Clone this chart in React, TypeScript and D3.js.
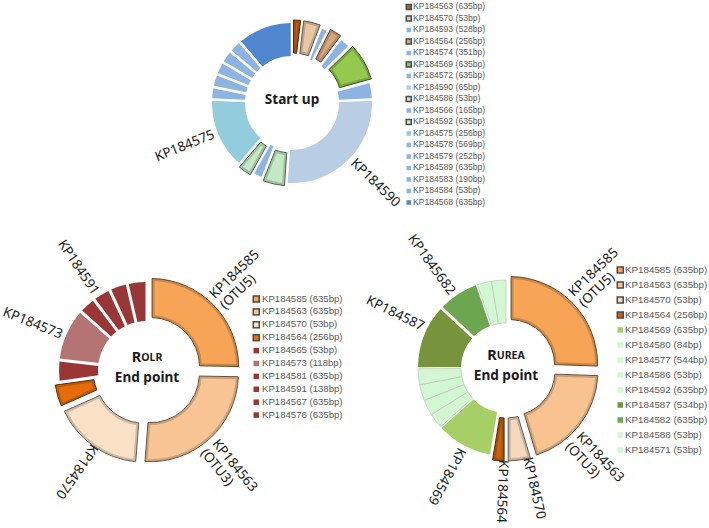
import * as d3 from 'd3';

// ---- Start up ----
const startIds = ['KP184563', 'KP184570', 'KP184593', 'KP184564', 'KP184574', 'KP184569', 'KP184572', 'KP184590', 'KP184586', 'KP184566', 'KP184592', 'KP184575', 'KP184578', 'KP184579', 'KP184589', 'KP184583', 'KP184584', 'KP184568'];
const startBp = [635, 53, 528, 256, 351, 635, 635, 65, 53, 165, 635, 256, 569, 252, 635, 190, 53, 635];
const startShare = [7, 14, 5.5, 10.5, 8.5, 29, 13, 96.5, 17.5, 7.5, 11.5, 52, 9, 9.5, 9.5, 9.5, 9.5, 40.5];
const startColors = ['#c65b12', '#e9c6a6', '#8db3e2', '#d9a57b', '#8db3e2', '#92c94e', '#8db3e2', '#b9cde5', '#c3eac3', '#8db3e2', '#c3eac3', '#93cddd', '#8db3e2', '#8db3e2', '#8db3e2', '#8db3e2', '#8db3e2', '#4f86cf'];
const startBevel = ['KP184563', 'KP184570', 'KP184564', 'KP184569', 'KP184586', 'KP184592'];

// ---- R OLR end point ----
const olrIds = ['KP184585', 'KP184563', 'KP184570', 'KP184564', 'KP184565', 'KP184573', 'KP184581', 'KP184591', 'KP184567', 'KP184576'];
const olrBp = [635, 635, 53, 256, 53, 118, 635, 138, 635, 635];
const olrShare = [91, 93.5, 61.5, 16, 14.5, 35, 11.5, 12, 12, 13];
const olrColors = ['#f7a456', '#f9c594', '#fbe1c6', '#e46c0a', '#993737', '#b57474', '#993737', '#993737', '#993737', '#993737'];
const olrBevel = ['KP184585', 'KP184563', 'KP184570', 'KP184564'];

// ---- R UREA end point ----
const ureaIds = ['KP184585', 'KP184563', 'KP184570', 'KP184564', 'KP184569', 'KP184580', 'KP184577', 'KP184586', 'KP184592', 'KP184587', 'KP184582', 'KP184588', 'KP184571'];
const ureaBp = [635, 635, 53, 256, 635, 84, 544, 53, 635, 534, 635, 53, 53];
const ureaShare = [92, 71.5, 16.5, 9.5, 38.5, 10, 10.5, 10.5, 10.5, 43.5, 28, 9.5, 9.5];
const ureaColors = ['#f7a456', '#f9c291', '#f4d9bf', '#c8600f', '#a6cf66', '#d3f6d3', '#d3f6d3', '#d3f6d3', '#d3f6d3', '#77933c', '#6ca64e', '#d3f6d3', '#d3f6d3'];
const ureaBevel = ['KP184585', 'KP184563', 'KP184570', 'KP184564'];
const ureaJoined = ['KP184580', 'KP184577', 'KP184586', 'KP184592', 'KP184588', 'KP184571'];

// slice labels: text lines, angle (deg clockwise from top), read inward?
const startLabels = [
  { lines: ['KP184590'], at: 134, flip: false },
  { lines: ['KP184575'], at: 248, flip: true },
];
const olrLabels = [
  { lines: ['KP184585', '(OTU5)'], at: 46, flip: false },
  { lines: ['KP184563', '(OTU3)'], at: 141, flip: false },
  { lines: ['KP184570'], at: 215, flip: false },
  { lines: ['KP184573'], at: 292, flip: true },
  { lines: ['KP184591'], at: 326, flip: true },
];
const ureaLabels = [
  { lines: ['KP184585', '(OTU5)'], at: 46, flip: false },
  { lines: ['KP184563', '(OTU3)'], at: 137, flip: false },
  { lines: ['KP184570'], at: 167, flip: false },
  { lines: ['KP184564'], at: 182, flip: false },
  { lines: ['KP184569'], at: 209, flip: false },
  { lines: ['KP184587'], at: 296, flip: true },
  { lines: ['KP1845682'], at: 324, flip: true },
];

const charts = [
  {
    key: 'start', ids: startIds, bp: startBp, share: startShare, colors: startColors, bevel: startBevel, joined: [] as string[],
    cx: 292, cy: 103, rIn: 47, rOut: 80, explode: 3, gap: 2.6, labels: startLabels,
    title: [['Start up']], titleY: [-3],
    legend: { mx: 406, tx: 413, y0: 7, dy: 11.5, fs: 8.6, ms: 5.5 },
  },
  {
    key: 'olr', ids: olrIds, bp: olrBp, share: olrShare, colors: olrColors, bevel: olrBevel, joined: [] as string[],
    cx: 147, cy: 370, rIn: 49, rOut: 88, explode: 5, gap: 3, labels: olrLabels,
    title: [['R', 'OLR'], ['End point']], titleY: [-12, 8],
    legend: { mx: 253, tx: 262, y0: 299, dy: 12.9, fs: 9.6, ms: 6.5 },
  },
  {
    key: 'urea', ids: ureaIds, bp: ureaBp, share: ureaShare, colors: ureaColors, bevel: ureaBevel, joined: ureaJoined,
    cx: 506, cy: 368, rIn: 45, rOut: 88, explode: 5, gap: 3, labels: ureaLabels,
    title: [['R', 'UREA'], ['End point']], titleY: [-12, 8],
    legend: { mx: 617, tx: 625, y0: 270, dy: 15, fs: 9.8, ms: 6.5 },
  },
];

const rad = (deg: number) => (deg * Math.PI) / 180;

function Donut({ c }: { c: any }) {
  const pie = d3.pie<number>().sort(null).value((d) => d);
  const arcs = pie(c.share);
  const padR = 100;
  const base = d3.arc<any>().innerRadius(c.rIn).outerRadius(c.rOut).padRadius(padR);
  const face = d3.arc<any>().innerRadius(c.rIn + 2.5).outerRadius(c.rOut - 2.5).padRadius(padR);

  return (
    <g>
      <g transform={`translate(${c.cx},${c.cy})`}>
        {arcs.map((a, i) => {
          const id = c.ids[i];
          const col = c.colors[i];
          const isBevel = c.bevel.includes(id);
          const isJoined = c.joined.includes(id);
          const pad = isJoined ? 0 : c.gap / padR;
          const mid = (a.startAngle + a.endAngle) / 2;
          const e = isBevel ? c.explode : 0;
          const tx = Math.sin(mid) * e;
          const ty = -Math.cos(mid) * e;
          const d = { ...a, padAngle: pad };
          if (isBevel) {
            const dark = d3.color(col)!.darker(0.55).formatHex();
            const line = d3.color(col)!.darker(2.4).formatHex();
            return (
              <g key={id} transform={`translate(${tx},${ty})`}>
                <path d={base(d) || ''} fill={dark} stroke={line} strokeWidth={1} />
                <path d={face({ ...a, padAngle: pad + 5 / padR }) || ''} fill={col} />
              </g>
            );
          }
          return (
            <path
              key={id}
              d={base(d) || ''}
              fill={col}
              stroke={isJoined ? '#b9c9b9' : 'none'}
              strokeWidth={isJoined ? 0.7 : 0}
            />
          );
        })}
        {c.title.map((parts: string[], k: number) => (
          <text
            key={k}
            x={0}
            y={c.titleY[k]}
            textAnchor="middle"
            dominantBaseline="middle"
            fontWeight="bold"
            fontSize={parts.length > 1 ? 14.5 : 13.6}
            fill="#1a1a1a"
          >
            {parts.length > 1 ? (
              <>
                <tspan>{parts[0]}</tspan>
                <tspan fontSize={10.5}>{parts[1]}</tspan>
              </>
            ) : (
              parts[0]
            )}
          </text>
        ))}
        {c.labels.map((l: any) => {
          const n = l.lines.length;
          const r = c.rOut + (n > 1 ? 10 : 4);
          const x = Math.sin(rad(l.at)) * r;
          const y = -Math.cos(rad(l.at)) * r;
          const rot = l.flip ? l.at - 270 : l.at - 90;
          return (
            <g key={l.lines[0]} transform={`translate(${x},${y}) rotate(${rot})`}>
              {l.lines.map((s: string, j: number) => (
                <text
                  key={s}
                  x={0}
                  y={(j - (n - 1) / 2) * 15}
                  textAnchor={l.flip ? 'end' : 'start'}
                  dominantBaseline="middle"
                  fontSize={13.5}
                  fill="#1a1a1a"
                >
                  {s}
                </text>
              ))}
            </g>
          );
        })}
      </g>
      <g fontFamily="'Liberation Sans', Arial, sans-serif">
        {c.ids.map((id: string, i: number) => {
          const L = c.legend;
          const y = L.y0 + i * L.dy;
          const isBevel = c.bevel.includes(id);
          const col = c.colors[i];
          return (
            <g key={id}>
              {isBevel ? (
                <g>
                  <rect x={L.mx - 0.5} y={y - L.ms / 2 - 0.5} width={L.ms + 1} height={L.ms + 1} fill="#4a4a4a" />
                  <rect x={L.mx + 1} y={y - L.ms / 2 + 1} width={L.ms - 2} height={L.ms - 2} fill={col} />
                </g>
              ) : (
                <rect x={L.mx + 0.5} y={y - L.ms / 2 + 0.5} width={L.ms - 1} height={L.ms - 1} fill={col} />
              )}
              <text x={L.tx} y={y} dominantBaseline="middle" fontSize={L.fs} fill="#595959">
                {`${id} (${c.bp[i]}bp)`}
              </text>
            </g>
          );
        })}
      </g>
    </g>
  );
}

export default function App() {
  return (
    <svg
      width={709}
      height={528}
      style={{ position: 'absolute', left: 0, top: 0, background: '#fff' }}
      fontFamily="'Noto Sans', sans-serif"
    >
      {charts.map((c) => (
        <Donut key={c.key} c={c} />
      ))}
    </svg>
  );
}
